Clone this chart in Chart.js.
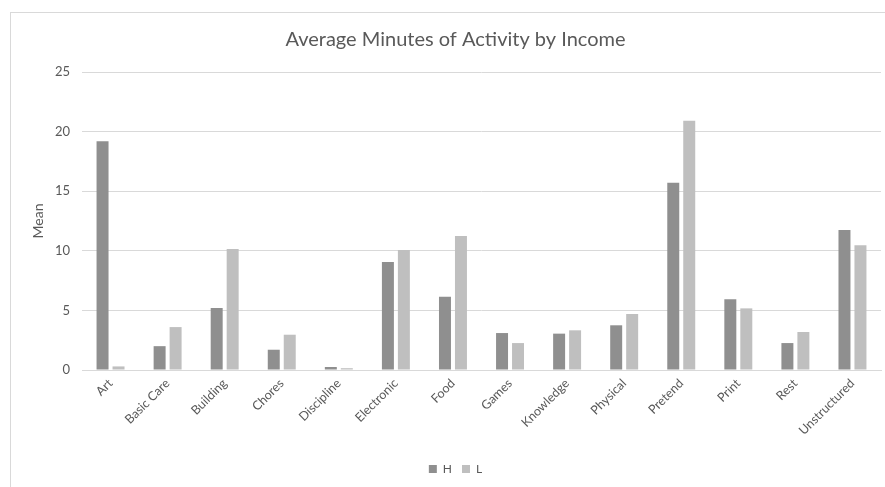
<!DOCTYPE html>
<html>
<head>
<meta charset="utf-8">
<script src="https://cdn.jsdelivr.net/npm/chart.js@4"></script>
<style>
  html, body { margin: 0; padding: 0; background: #fff; }
  #wrap { position: absolute; left: 0; top: 0; width: 885px; height: 487px; }
  #frame { position: absolute; left: 10px; top: 12px; width: 880px; height: 480px; border: 1px solid #d9d9d9; box-sizing: border-box; }
  canvas { position: absolute; left: 0; top: 0; }
</style>
</head>
<body>
<div id="wrap">
  <div id="frame"></div>
  <canvas id="c" width="885" height="487"></canvas>
</div>
<script>
const categories = ["Art","Basic Care","Building","Chores","Discipline","Electronic","Food","Games","Knowledge","Physical","Pretend","Print","Rest","Unstructured"];
const seriesH = [19.2, 2.0, 5.2, 1.7, 0.25, 9.06, 6.15, 3.1, 3.05, 3.75, 15.7, 5.93, 2.26, 11.74];
const seriesL = [0.3, 3.6, 10.15, 2.96, 0.15, 10.07, 11.24, 2.26, 3.33, 4.7, 20.9, 5.17, 3.19, 10.46];
const yTicks = [0, 5, 10, 15, 20, 25];

const FONT = "Lato, 'Open Sans', sans-serif";
const TXT = "#595959";

new Chart(document.getElementById('c'), {
  type: 'bar',
  data: {
    labels: categories,
    datasets: [
      { label: 'H', data: seriesH, backgroundColor: '#8f8f8f', barPercentage: 0.75, categoryPercentage: 0.56 },
      { label: 'L', data: seriesL, backgroundColor: '#bfbfbf', barPercentage: 0.75, categoryPercentage: 0.56 }
    ]
  },
  options: {
    responsive: false,
    animation: false,
    devicePixelRatio: 1,
    layout: { padding: { left: 30, right: 4, top: 10, bottom: 2 } },
    plugins: {
      title: {
        display: true,
        text: 'Average Minutes of Activity by Income',
        color: TXT,
        font: { family: FONT, size: 20, weight: 'normal' },
        padding: { top: 18, bottom: 20 }
      },
      legend: {
        position: 'bottom',
        labels: {
          color: TXT,
          boxWidth: 8,
          boxHeight: 8,
          font: { family: FONT, size: 12 },
          padding: 10
        }
      },
      tooltip: { enabled: false }
    },
    scales: {
      x: {
        grid: { display: false, drawTicks: false },
        border: { color: '#d9d9d9' },
        ticks: {
          color: TXT,
          font: { family: FONT, size: 12.5 },
          maxRotation: 45,
          minRotation: 45,
          padding: 6
        },
        afterFit: s => { s.height = 83; }
      },
      y: {
        min: 0,
        max: 25,
        afterBuildTicks: s => { s.ticks = yTicks.map(v => ({ value: v })); },
        grid: { color: '#d9d9d9', drawTicks: false },
        border: { display: false },
        ticks: {
          color: TXT,
          font: { family: FONT, size: 13 },
          padding: 12
        },
        title: {
          display: true,
          text: 'Mean',
          color: TXT,
          font: { family: FONT, size: 14 },
          padding: { top: 0, bottom: 8 }
        },
        afterFit: s => { s.width = 52; }
      }
    }
  }
});
</script>
</body>
</html>
